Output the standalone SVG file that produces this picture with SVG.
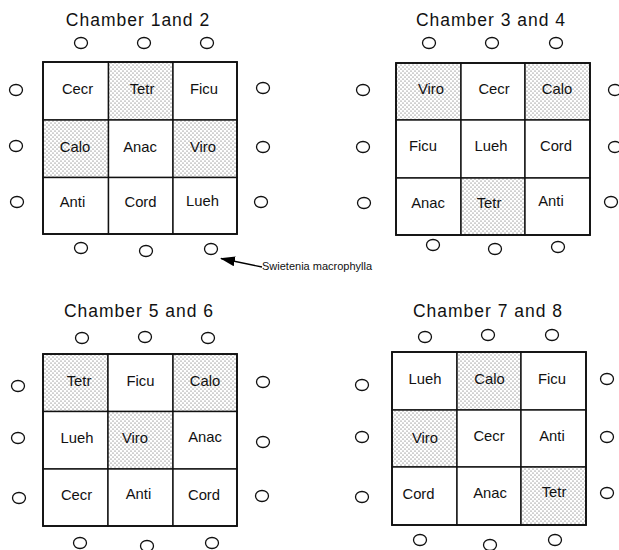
<svg xmlns="http://www.w3.org/2000/svg" width="619" height="550" viewBox="0 0 619 550">
<defs>
<pattern id="stip" width="4" height="4" patternUnits="userSpaceOnUse">
<rect width="4" height="4" fill="#fff"/>
<circle cx="1" cy="1" r="0.55" fill="#444"/>
<circle cx="3" cy="3" r="0.55" fill="#444"/>
</pattern>
<marker id="ah" markerWidth="15" markerHeight="10" refX="14" refY="5" orient="auto" markerUnits="userSpaceOnUse">
<path d="M0,0 L15,5 L0,10 Z" fill="#000"/>
</marker>
<style>
.cell{fill:#fff;stroke:#111;stroke-width:1.4}
.sh{fill:url(#stip)}
.frame{fill:none;stroke:#111;stroke-width:1.8}
.lbl{font-family:"Liberation Sans",Arial,sans-serif;font-size:14.8px;fill:#111;text-anchor:middle}
.title{font-family:"Liberation Sans",Arial,sans-serif;font-size:17.5px;letter-spacing:1px;fill:#111;text-anchor:middle}
.tree{fill:none;stroke:#111;stroke-width:1.3}
.note{font-family:"Liberation Sans",Arial,sans-serif;font-size:11px;fill:#111}
</style>
</defs>
<rect width="619" height="550" fill="#fff"/>

<g id="chamber12">
<text class="title" x="138" y="26">Chamber 1and 2</text>
<g id="c12-grid">
<rect class="cell" x="43" y="62" width="65.5" height="58"/>
<rect class="cell sh" x="108.5" y="62" width="64.5" height="58"/>
<rect class="cell" x="173" y="62" width="64" height="58"/>
<rect class="cell sh" x="43" y="120" width="65.5" height="57.5"/>
<rect class="cell" x="108.5" y="120" width="64.5" height="57.5"/>
<rect class="cell sh" x="173" y="120" width="64" height="57.5"/>
<rect class="cell" x="43" y="177.5" width="65.5" height="56.5"/>
<rect class="cell" x="108.5" y="177.5" width="64.5" height="56.5"/>
<rect class="cell" x="173" y="177.5" width="64" height="56.5"/>
<rect class="frame" x="43" y="62" width="194" height="172"/>
</g>
<g id="c12-labels">
<text class="lbl" x="77.5" y="94">Cecr</text>
<text class="lbl" x="142" y="94">Tetr</text>
<text class="lbl" x="204" y="94">Ficu</text>
<text class="lbl" x="75" y="152">Calo</text>
<text class="lbl" x="140" y="152">Anac</text>
<text class="lbl" x="203" y="152">Viro</text>
<text class="lbl" x="72.5" y="207">Anti</text>
<text class="lbl" x="140.5" y="207">Cord</text>
<text class="lbl" x="202.5" y="206">Lueh</text>
</g>
<g id="c12-trees">
<ellipse class="tree" cx="81" cy="43" rx="6.5" ry="5.5"/>
<ellipse class="tree" cx="144" cy="43" rx="6.5" ry="5.5"/>
<ellipse class="tree" cx="207" cy="43" rx="6.5" ry="5.5"/>
<ellipse class="tree" cx="16" cy="90" rx="6.5" ry="5.5"/>
<ellipse class="tree" cx="16" cy="146" rx="6.5" ry="5.5"/>
<ellipse class="tree" cx="17" cy="202" rx="6.5" ry="5.5"/>
<ellipse class="tree" cx="263" cy="88" rx="6.5" ry="5.5"/>
<ellipse class="tree" cx="263" cy="147" rx="6.5" ry="5.5"/>
<ellipse class="tree" cx="261" cy="202" rx="6.5" ry="5.5"/>
<ellipse class="tree" cx="81" cy="248" rx="6.5" ry="5.5"/>
<ellipse class="tree" cx="146" cy="251" rx="6.5" ry="5.5"/>
<ellipse class="tree" cx="211" cy="249" rx="6.5" ry="5.5"/>
</g>
</g>

<g id="chamber34">
<text class="title" x="491" y="26">Chamber 3 and 4</text>
<g id="c34-grid">
<rect class="cell sh" x="396" y="63" width="65" height="57"/>
<rect class="cell" x="461" y="63" width="64" height="57"/>
<rect class="cell sh" x="525" y="63" width="65" height="57"/>
<rect class="cell" x="396" y="120" width="65" height="58"/>
<rect class="cell" x="461" y="120" width="64" height="58"/>
<rect class="cell" x="525" y="120" width="65" height="58"/>
<rect class="cell" x="396" y="178" width="65" height="57"/>
<rect class="cell sh" x="461" y="178" width="64" height="57"/>
<rect class="cell" x="525" y="178" width="65" height="57"/>
<rect class="frame" x="396" y="63" width="194" height="172"/>
</g>
<g id="c34-labels">
<text class="lbl" x="431" y="93.5">Viro</text>
<text class="lbl" x="494" y="93.5">Cecr</text>
<text class="lbl" x="557" y="93.5">Calo</text>
<text class="lbl" x="423" y="151">Ficu</text>
<text class="lbl" x="491" y="151">Lueh</text>
<text class="lbl" x="556" y="151">Cord</text>
<text class="lbl" x="428" y="208">Anac</text>
<text class="lbl" x="489" y="208">Tetr</text>
<text class="lbl" x="551" y="206">Anti</text>
</g>
<g id="c34-trees">
<ellipse class="tree" cx="429" cy="43" rx="6.5" ry="5.5"/>
<ellipse class="tree" cx="492" cy="43" rx="6.5" ry="5.5"/>
<ellipse class="tree" cx="556" cy="43" rx="6.5" ry="5.5"/>
<ellipse class="tree" cx="363" cy="90" rx="6.5" ry="5.5"/>
<ellipse class="tree" cx="363" cy="147" rx="6.5" ry="5.5"/>
<ellipse class="tree" cx="364" cy="203" rx="6.5" ry="5.5"/>
<ellipse class="tree" cx="615" cy="90" rx="6.5" ry="5.5"/>
<ellipse class="tree" cx="615" cy="147" rx="6.5" ry="5.5"/>
<ellipse class="tree" cx="611" cy="202" rx="6.5" ry="5.5"/>
<ellipse class="tree" cx="433" cy="245" rx="6.5" ry="5.5"/>
<ellipse class="tree" cx="495" cy="249" rx="6.5" ry="5.5"/>
<ellipse class="tree" cx="558" cy="247" rx="6.5" ry="5.5"/>
</g>
</g>

<g id="chamber56">
<text class="title" x="139" y="317">Chamber 5 and 6</text>
<g id="c56-grid">
<rect class="cell sh" x="43" y="354" width="65" height="57.5"/>
<rect class="cell" x="108" y="354" width="65" height="57.5"/>
<rect class="cell sh" x="173" y="354" width="64" height="57.5"/>
<rect class="cell" x="43" y="411.5" width="65" height="57.5"/>
<rect class="cell sh" x="108" y="411.5" width="65" height="57.5"/>
<rect class="cell" x="173" y="411.5" width="64" height="57.5"/>
<rect class="cell" x="43" y="469" width="65" height="57"/>
<rect class="cell" x="108" y="469" width="65" height="57"/>
<rect class="cell" x="173" y="469" width="64" height="57"/>
<rect class="frame" x="43" y="354" width="194" height="172"/>
</g>
<g id="c56-labels">
<text class="lbl" x="79" y="385.5">Tetr</text>
<text class="lbl" x="140.5" y="385.5">Ficu</text>
<text class="lbl" x="205" y="385.5">Calo</text>
<text class="lbl" x="77" y="442.5">Lueh</text>
<text class="lbl" x="135" y="442.5">Viro</text>
<text class="lbl" x="205" y="441.5">Anac</text>
<text class="lbl" x="76.5" y="500">Cecr</text>
<text class="lbl" x="138.5" y="498.5">Anti</text>
<text class="lbl" x="204" y="500">Cord</text>
</g>
<g id="c56-trees">
<ellipse class="tree" cx="82" cy="338" rx="6.5" ry="5.5"/>
<ellipse class="tree" cx="145" cy="337" rx="6.5" ry="5.5"/>
<ellipse class="tree" cx="208" cy="338" rx="6.5" ry="5.5"/>
<ellipse class="tree" cx="18" cy="386" rx="6.5" ry="5.5"/>
<ellipse class="tree" cx="18" cy="438" rx="6.5" ry="5.5"/>
<ellipse class="tree" cx="19" cy="498" rx="6.5" ry="5.5"/>
<ellipse class="tree" cx="263" cy="382" rx="6.5" ry="5.5"/>
<ellipse class="tree" cx="263" cy="442" rx="6.5" ry="5.5"/>
<ellipse class="tree" cx="262" cy="496" rx="6.5" ry="5.5"/>
<ellipse class="tree" cx="80" cy="543" rx="6.5" ry="5.5"/>
<ellipse class="tree" cx="147" cy="546" rx="6.5" ry="5.5"/>
<ellipse class="tree" cx="212" cy="543" rx="6.5" ry="5.5"/>
</g>
</g>

<g id="chamber78">
<text class="title" x="488" y="317">Chamber 7 and 8</text>
<g id="c78-grid">
<rect class="cell" x="392" y="352" width="65" height="58"/>
<rect class="cell sh" x="457" y="352" width="64" height="58"/>
<rect class="cell" x="521" y="352" width="65" height="58"/>
<rect class="cell sh" x="392" y="410" width="65" height="57"/>
<rect class="cell" x="457" y="410" width="64" height="57"/>
<rect class="cell" x="521" y="410" width="65" height="57"/>
<rect class="cell" x="392" y="467" width="65" height="58"/>
<rect class="cell" x="457" y="467" width="64" height="58"/>
<rect class="cell sh" x="521" y="467" width="65" height="58"/>
<rect class="frame" x="392" y="352" width="194" height="173"/>
</g>
<g id="c78-labels">
<text class="lbl" x="425" y="383.5">Lueh</text>
<text class="lbl" x="489.5" y="383.5">Calo</text>
<text class="lbl" x="552" y="383.5">Ficu</text>
<text class="lbl" x="425" y="443">Viro</text>
<text class="lbl" x="489" y="441">Cecr</text>
<text class="lbl" x="552" y="441">Anti</text>
<text class="lbl" x="418.5" y="498.5">Cord</text>
<text class="lbl" x="490" y="497.5">Anac</text>
<text class="lbl" x="554" y="497">Tetr</text>
</g>
<g id="c78-trees">
<ellipse class="tree" cx="425" cy="337" rx="6.5" ry="5.5"/>
<ellipse class="tree" cx="488" cy="335" rx="6.5" ry="5.5"/>
<ellipse class="tree" cx="552" cy="335" rx="6.5" ry="5.5"/>
<ellipse class="tree" cx="362" cy="385" rx="6.5" ry="5.5"/>
<ellipse class="tree" cx="362" cy="437" rx="6.5" ry="5.5"/>
<ellipse class="tree" cx="362" cy="497" rx="6.5" ry="5.5"/>
<ellipse class="tree" cx="607" cy="379" rx="6.5" ry="5.5"/>
<ellipse class="tree" cx="607" cy="437" rx="6.5" ry="5.5"/>
<ellipse class="tree" cx="607" cy="493" rx="6.5" ry="5.5"/>
<ellipse class="tree" cx="420" cy="540" rx="6.5" ry="5.5"/>
<ellipse class="tree" cx="490" cy="545" rx="6.5" ry="5.5"/>
<ellipse class="tree" cx="555" cy="540" rx="6.5" ry="5.5"/>
</g>
</g>

<g id="connectors">
<line x1="262" y1="267" x2="221" y2="258.5" stroke="#000" stroke-width="1.3" marker-end="url(#ah)"/>
</g>
<g id="note">
<text class="note" x="262" y="270">Swietenia macrophylla</text>
</g>
</svg>
